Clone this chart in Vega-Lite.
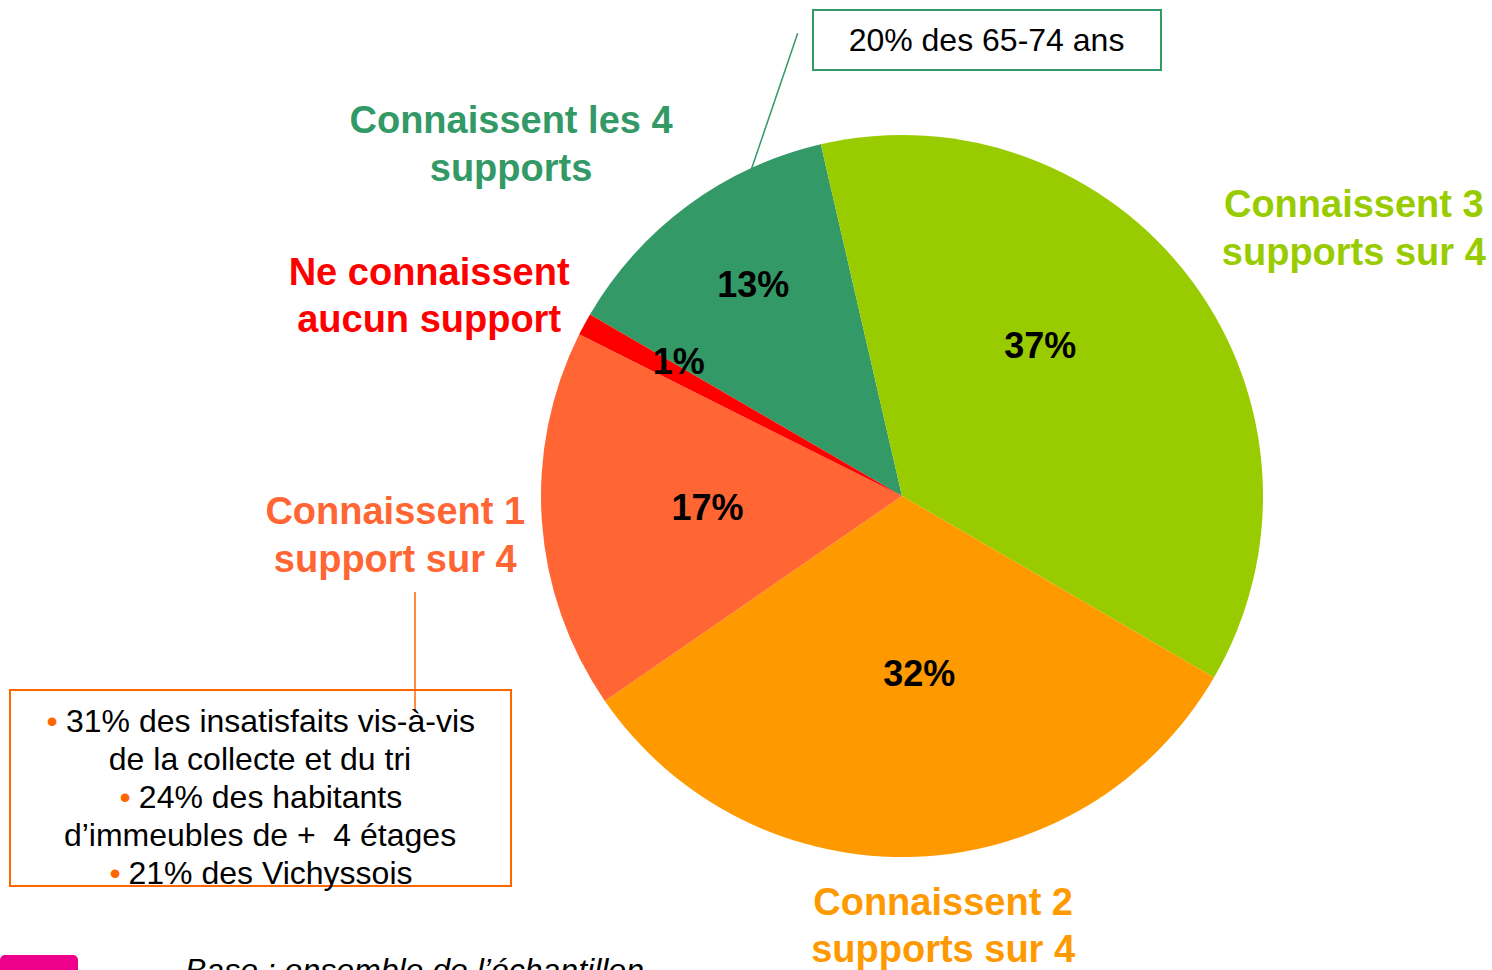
{
  "$schema": "https://vega.github.io/schema/vega-lite/v6.json",
  "width": 1180,
  "height": 948,
  "autosize": {"type": "none"},
  "padding": {"left": 312, "top": 22, "right": 0, "bottom": 0},
  "background": "white",
  "config": {"view": {"stroke": null}, "axis": {"disable": true}, "text": {"font": "Liberation Sans"}},
  "data": {
    "values": [
      {"categorie": "Connaissent les 4\nsupports", "supports": 4, "part": 0.13},
      {"categorie": "Connaissent 3\nsupports sur 4", "supports": 3, "part": 0.37},
      {"categorie": "Connaissent 2\nsupports sur 4", "supports": 2, "part": 0.32},
      {"categorie": "Connaissent 1\nsupport sur 4", "supports": 1, "part": 0.17},
      {"categorie": "Ne connaissent\naucun support", "supports": 0, "part": 0.01}
    ]
  },
  "layer": [
    {
      "encoding": {
        "theta": {"field": "part", "type": "quantitative", "stack": true, "scale": {"range": [-1.0437, 5.2395]}},
        "order": {"field": "supports", "type": "quantitative", "sort": "descending"},
        "color": {
          "field": "categorie", "type": "nominal", "legend": null,
          "scale": {
            "domain": ["Connaissent les 4\nsupports", "Connaissent 3\nsupports sur 4", "Connaissent 2\nsupports sur 4", "Connaissent 1\nsupport sur 4", "Ne connaissent\naucun support"],
            "range": ["#339966", "#99CC00", "#FF9900", "#FF6633", "#FF0000"]
          }
        }
      },
      "layer": [
        {"mark": {"type": "arc", "outerRadius": 361, "strokeWidth": 0}},
        {"mark": {"type": "text", "radius": 249, "dx": -1, "dy": 1, "fontSize": 36, "fontWeight": "bold", "font": "Liberation Sans", "align": "center", "baseline": "alphabetic"},
         "encoding": {"color": {"value": "#000000"}, "text": {"condition": {"test": "datum.supports === 4", "field": "part", "type": "quantitative", "format": ".0%"}, "value": ""}}},
        {"mark": {"type": "text", "radius": 193, "dx": -17, "dy": -23, "fontSize": 36, "fontWeight": "bold", "font": "Liberation Sans", "align": "center", "baseline": "alphabetic"},
         "encoding": {"color": {"value": "#000000"}, "text": {"condition": {"test": "datum.supports === 3", "field": "part", "type": "quantitative", "format": ".0%"}, "value": ""}}},
        {"mark": {"type": "text", "radius": 190, "dx": 10, "dy": 0, "fontSize": 36, "fontWeight": "bold", "font": "Liberation Sans", "align": "center", "baseline": "alphabetic"},
         "encoding": {"color": {"value": "#000000"}, "text": {"condition": {"test": "datum.supports === 2", "field": "part", "type": "quantitative", "format": ".0%"}, "value": ""}}},
        {"mark": {"type": "text", "radius": 196, "dx": 1, "dy": 10, "fontSize": 36, "fontWeight": "bold", "font": "Liberation Sans", "align": "center", "baseline": "alphabetic"},
         "encoding": {"color": {"value": "#000000"}, "text": {"condition": {"test": "datum.supports === 1", "field": "part", "type": "quantitative", "format": ".0%"}, "value": ""}}},
        {"mark": {"type": "text", "radius": 255, "dx": 1, "dy": -1, "fontSize": 36, "fontWeight": "bold", "font": "Liberation Sans", "align": "center", "baseline": "alphabetic"},
         "encoding": {"color": {"value": "#000000"}, "text": {"condition": {"test": "datum.supports === 0", "field": "part", "type": "quantitative", "format": ".0%"}, "value": ""}}},
        {"mark": {"type": "text", "radius": 524, "dx": -80, "dy": 59, "fontSize": 38, "fontWeight": "bold", "font": "Liberation Sans", "align": "center", "baseline": "alphabetic", "lineBreak": "\n", "lineHeight": 47.5},
         "encoding": {"text": {"condition": {"test": "datum.supports === 4", "field": "categorie", "type": "nominal"}, "value": ""}}},
        {"mark": {"type": "text", "radius": 529, "dx": 26, "dy": 35, "fontSize": 38, "fontWeight": "bold", "font": "Liberation Sans", "align": "center", "baseline": "alphabetic", "lineBreak": "\n", "lineHeight": 47.5},
         "encoding": {"text": {"condition": {"test": "datum.supports === 3", "field": "categorie", "type": "nominal"}, "value": ""}}},
        {"mark": {"type": "text", "radius": 420, "dx": 25, "dy": -1, "fontSize": 38, "fontWeight": "bold", "font": "Liberation Sans", "align": "center", "baseline": "alphabetic", "lineBreak": "\n", "lineHeight": 47.5},
         "encoding": {"text": {"condition": {"test": "datum.supports === 2", "field": "categorie", "type": "nominal"}, "value": ""}}},
        {"mark": {"type": "text", "radius": 508, "dx": 0, "dy": -7, "fontSize": 38, "fontWeight": "bold", "font": "Liberation Sans", "align": "center", "baseline": "alphabetic", "lineBreak": "\n", "lineHeight": 47.5},
         "encoding": {"text": {"condition": {"test": "datum.supports === 1", "field": "categorie", "type": "nominal"}, "value": ""}}},
        {"mark": {"type": "text", "radius": 516, "dx": -19, "dy": 34, "fontSize": 38, "fontWeight": "bold", "font": "Liberation Sans", "align": "center", "baseline": "alphabetic", "lineBreak": "\n", "lineHeight": 47.5},
         "encoding": {"text": {"condition": {"test": "datum.supports === 0", "field": "categorie", "type": "nominal"}, "value": ""}}}
      ]
    },
    {
      "data": {"values": [{}]},
      "mark": {"type": "rect", "fill": "white", "stroke": "#339966", "strokeWidth": 2},
      "encoding": {
        "x": {"datum": -89, "type": "quantitative", "scale": {"domain": [-590, 590], "nice": false, "zero": false}, "axis": null},
        "x2": {"datum": 259},
        "y": {"datum": -486, "type": "quantitative", "scale": {"domain": [-474, 474], "nice": false, "zero": false, "reverse": true}, "axis": null},
        "y2": {"datum": -426}
      }
    },
    {
      "data": {"values": [{}]},
      "mark": {"type": "rect", "fill": "white", "stroke": "#FF6600", "strokeWidth": 2},
      "encoding": {
        "x": {"datum": -892, "type": "quantitative", "axis": null},
        "x2": {"datum": -391},
        "y": {"datum": 194, "type": "quantitative", "axis": null},
        "y2": {"datum": 390}
      }
    },
    {
      "data": {"values": [{}]},
      "mark": {"type": "rule", "stroke": "#339966", "strokeWidth": 1.5},
      "encoding": {
        "x": {"datum": -104.3, "type": "quantitative", "axis": null},
        "x2": {"datum": -150.3},
        "y": {"datum": -462.7, "type": "quantitative", "axis": null},
        "y2": {"datum": -327.7}
      }
    },
    {
      "data": {"values": [{}]},
      "mark": {"type": "rule", "stroke": "#FF6600", "strokeWidth": 1.5},
      "encoding": {
        "x": {"datum": -487, "type": "quantitative", "axis": null},
        "x2": {"datum": -487},
        "y": {"datum": 96, "type": "quantitative", "axis": null},
        "y2": {"datum": 216}
      }
    },
    {
      "data": {"values": [{}]},
      "mark": {"type": "text", "font": "Liberation Sans", "fontSize": 32, "align": "center", "baseline": "alphabetic", "color": "#000000"},
      "encoding": {
        "x": {"datum": 84.5, "type": "quantitative", "axis": null},
        "y": {"datum": -445, "type": "quantitative", "axis": null},
        "text": {"value": "20% des 65-74 ans"}
      }
    },
    {
      "data": {"values": [{}]},
      "mark": {"type": "text", "font": "Liberation Sans", "fontSize": 32, "align": "center", "baseline": "alphabetic", "color": "#000000"},
      "encoding": {
        "x": {"datum": -631.5, "type": "quantitative", "axis": null},
        "y": {"datum": 236, "type": "quantitative", "axis": null},
        "text": {"value": "31% des insatisfaits vis-à-vis"}
      }
    },
    {
      "data": {"values": [{}]},
      "mark": {"type": "text", "font": "Liberation Sans", "fontSize": 32, "align": "center", "baseline": "alphabetic", "color": "#000000"},
      "encoding": {
        "x": {"datum": -642, "type": "quantitative", "axis": null},
        "y": {"datum": 274, "type": "quantitative", "axis": null},
        "text": {"value": "de la collecte et du tri"}
      }
    },
    {
      "data": {"values": [{}]},
      "mark": {"type": "text", "font": "Liberation Sans", "fontSize": 32, "align": "center", "baseline": "alphabetic", "color": "#000000"},
      "encoding": {
        "x": {"datum": -631.5, "type": "quantitative", "axis": null},
        "y": {"datum": 312, "type": "quantitative", "axis": null},
        "text": {"value": "24% des habitants"}
      }
    },
    {
      "data": {"values": [{}]},
      "mark": {"type": "text", "font": "Liberation Sans", "fontSize": 32, "align": "center", "baseline": "alphabetic", "color": "#000000"},
      "encoding": {
        "x": {"datum": -642, "type": "quantitative", "axis": null},
        "y": {"datum": 350, "type": "quantitative", "axis": null},
        "text": {"value": "d’immeubles de + \u00a04 étages"}
      }
    },
    {
      "data": {"values": [{}]},
      "mark": {"type": "text", "font": "Liberation Sans", "fontSize": 32, "align": "center", "baseline": "alphabetic", "color": "#000000"},
      "encoding": {
        "x": {"datum": -631.5, "type": "quantitative", "axis": null},
        "y": {"datum": 388, "type": "quantitative", "axis": null},
        "text": {"value": "21% des Vichyssois"}
      }
    },
    {
      "data": {"values": [{}]},
      "mark": {"type": "text", "font": "Liberation Sans", "fontSize": 32, "align": "center", "baseline": "alphabetic", "color": "#FF6600"},
      "encoding": {
        "x": {"datum": -850, "type": "quantitative", "axis": null},
        "y": {"datum": 236, "type": "quantitative", "axis": null},
        "text": {"value": "•"}
      }
    },
    {
      "data": {"values": [{}]},
      "mark": {"type": "text", "font": "Liberation Sans", "fontSize": 32, "align": "center", "baseline": "alphabetic", "color": "#FF6600"},
      "encoding": {
        "x": {"datum": -777, "type": "quantitative", "axis": null},
        "y": {"datum": 312, "type": "quantitative", "axis": null},
        "text": {"value": "•"}
      }
    },
    {
      "data": {"values": [{}]},
      "mark": {"type": "text", "font": "Liberation Sans", "fontSize": 32, "align": "center", "baseline": "alphabetic", "color": "#FF6600"},
      "encoding": {
        "x": {"datum": -787, "type": "quantitative", "axis": null},
        "y": {"datum": 388, "type": "quantitative", "axis": null},
        "text": {"value": "•"}
      }
    },
    {
      "data": {"values": [{}]},
      "mark": {"type": "rect", "fill": "#EC008C", "cornerRadius": 5},
      "encoding": {
        "x": {"datum": -902, "type": "quantitative", "axis": null},
        "x2": {"datum": -824},
        "y": {"datum": 459, "type": "quantitative", "axis": null},
        "y2": {"datum": 495}
      }
    },
    {
      "data": {"values": [{}]},
      "mark": {"type": "text", "font": "Liberation Sans", "fontSize": 32, "fontStyle": "italic", "align": "left", "baseline": "alphabetic", "color": "#000000"},
      "encoding": {
        "x": {"datum": -717, "type": "quantitative", "axis": null},
        "y": {"datum": 485, "type": "quantitative", "axis": null},
        "text": {"value": "Base : ensemble de l’échantillon"}
      }
    }
  ]
}
